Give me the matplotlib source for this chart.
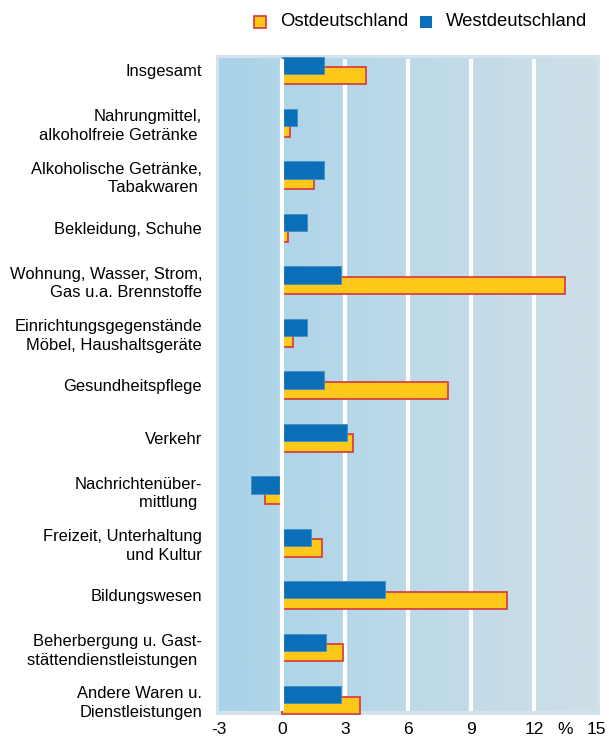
import numpy as np
import matplotlib
matplotlib.use("Agg")
import matplotlib.pyplot as plt
from matplotlib.patches import Rectangle

plt.rcParams['font.family'] = ['Liberation Sans', 'DejaVu Sans']

# Kategorien (von oben nach unten)
kategorien = [
    "Insgesamt",
    "Nahrungmittel,\nalkoholfreie Getränke ",
    "Alkoholische Getränke,\nTabakwaren ",
    "Bekleidung, Schuhe",
    "Wohnung, Wasser, Strom,\nGas u.a. Brennstoffe",
    "Einrichtungsgegenstände\nMöbel, Haushaltsgeräte",
    "Gesundheitspflege",
    "Verkehr",
    "Nachrichtenüber-\nmittlung ",
    "Freizeit, Unterhaltung\nund Kultur",
    "Bildungswesen",
    "Beherbergung u. Gast-\nstättendienstleistungen ",
    "Andere Waren u.\nDienstleistungen",
]

# Veraenderung in %
ost = [4.0, 0.4, 1.5, 0.3, 13.5, 0.5, 7.9, 3.4, -0.8, 1.9, 10.7, 2.9, 3.7]
west = [2.0, 0.7, 2.0, 1.2, 2.8, 1.2, 2.0, 3.1, -1.5, 1.4, 4.9, 2.1, 2.8]

xticks = [-3, 0, 3, 6, 9, 12, 15]
xtick_labels = ["-3", "0", "3", "6", "9", "12", "15"]

farbe_ost = "#fec81b"
rand_ost = "#d8353c"
farbe_west = "#0a6fb6"

W, H = 609, 748
fig = plt.figure(figsize=(W / 100, H / 100), dpi=100)
ax = fig.add_axes([216 / W, 1 - 715 / H, 384 / W, 660 / H])

n = len(kategorien)
y = np.arange(n)
y_oben, y_unten = -0.295, n - 1 + 0.286
p_oben, p_unten = -0.22, n - 1 + 0.21

# Rahmen und Hintergrund mit Farbverlauf
ax.add_patch(Rectangle((0, 0), 1, 1, transform=ax.transAxes,
                       facecolor="#d3e2eb", edgecolor="none", zorder=0))
verlauf = np.linspace(0, 1, 256).reshape(1, -1)
c1 = np.array([169, 211, 232]) / 255.0
c2 = np.array([207, 223, 232]) / 255.0
img = c1[None, None, :] * (1 - verlauf[..., None]) + c2[None, None, :] * verlauf[..., None]
ax.imshow(img, extent=[-3, 15, p_unten, p_oben], aspect="auto",
          interpolation="bilinear", zorder=0.5)
ax.set_xlim(-3.15, 15.15)
ax.set_ylim(y_unten, y_oben)

h = 0.33
ax.barh(y + 0.1, ost, height=h, color=farbe_ost, edgecolor=rand_ost,
        linewidth=1.2, zorder=2)
ax.barh(y - 0.1, west, height=h, color=farbe_west, edgecolor="#3f8ec6",
        linewidth=0.6, zorder=3)

# weisse Trennlinien: die Nulllinie liegt ueber den Balken, die anderen darunter
for gx in [0, 3, 6, 9, 12]:
    ax.plot([gx, gx], [p_unten, p_oben], color="white", linewidth=3,
            zorder=4 if gx == 0 else 1, solid_capstyle="butt")

for s in ax.spines.values():
    s.set_visible(False)

ax.set_yticks(y)
ax.set_yticklabels(kategorien, fontsize=11.9, ha="right", linespacing=1.3)
ax.tick_params(axis="y", length=0, pad=10)
ax.set_xticks(xticks)
ax.set_xticklabels(xtick_labels, fontsize=12.5)
ax.tick_params(axis="x", length=0, pad=5)
ax.text(13.5, -0.01, "%", transform=ax.get_xaxis_transform(),
        fontsize=12.5, ha="center", va="top")

# Legende
fig.patches.append(Rectangle((254 / W, 1 - 28 / H), 12 / W, 12 / H,
                             transform=fig.transFigure, facecolor=farbe_ost,
                             edgecolor=rand_ost, linewidth=1.2))
fig.text(280 / W, 1 - 22 / H, "Ostdeutschland", fontsize=13.3, va="center")
fig.patches.append(Rectangle((420 / W, 1 - 28 / H), 12 / W, 12 / H,
                             transform=fig.transFigure, facecolor=farbe_west,
                             edgecolor="none"))
fig.text(446 / W, 1 - 22 / H, "Westdeutschland", fontsize=13.3, va="center")

fig.savefig("out.png", dpi=100)
